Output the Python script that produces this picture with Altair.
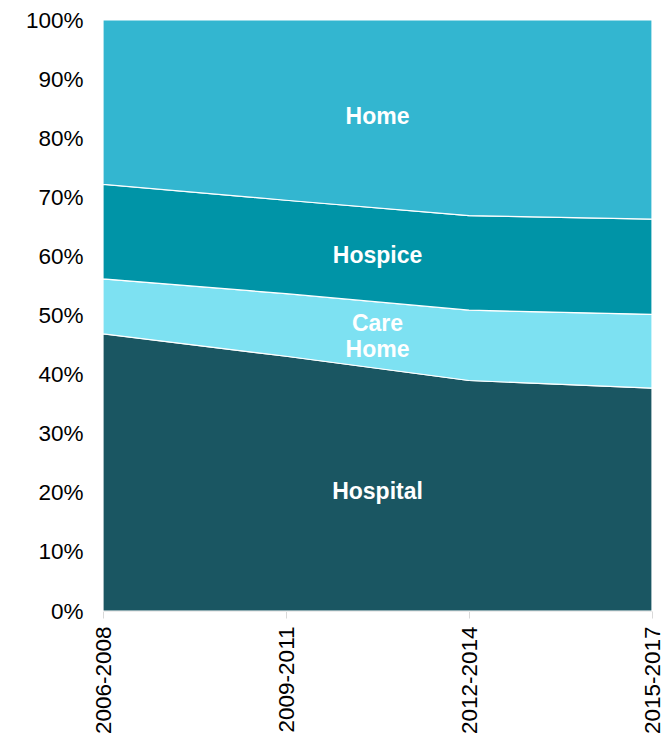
import altair as alt
import pandas as pd

periods = ["2006-2008", "2009-2011", "2012-2014", "2015-2017"]
places = ["Hospital", "Care Home", "Hospice", "Home"]
hospital = [46.9, 43.1, 39.0, 37.7]
care_home = [9.3, 10.6, 11.9, 12.5]
hospice = [16.0, 15.8, 16.0, 16.1]
home = [27.8, 30.5, 33.1, 33.7]
colors = ["#1A5662", "#7DE1F2", "#0094A7", "#33B6D0"]

label_text = [["Hospital"], ["Care", "Home"], ["Hospice"], ["Home"]]
label_x = [1.5, 1.5, 1.5, 1.5]
label_y = [20.2, 48.5, 60.0, 83.6]

series = [hospital, care_home, hospice, home]
rows = []
for k, (name, vals) in enumerate(zip(places, series)):
    for i, v in enumerate(vals):
        rows.append({"idx": i, "period": periods[i], "place": name, "order": k, "value": v})
df = pd.DataFrame(rows)

lab_df = pd.DataFrame({"text": label_text, "x": label_x, "y": label_y})

font = "Liberation Sans"
labels_js = "[" + ",".join("'" + p + "'" for p in periods) + "]"

x_enc = alt.X(
    "idx:Q",
    scale=alt.Scale(domain=[0, 3], nice=False, zero=False),
    axis=alt.Axis(
        values=[0, 1, 2, 3],
        labelExpr=labels_js + "[datum.value]",
        labelAngle=-90,
        labelAlign="right",
        labelBaseline="middle",
        labelFont=font,
        labelFontSize=22.5,
        labelColor="#000000",
        labelPadding=8,
        tickColor="#d9d9d9",
        tickSize=7,
        domainColor="#d9d9d9",
        grid=False,
        title=None,
    ),
)

area = alt.Chart(df).mark_area(stroke="white", strokeWidth=1.2, interpolate="linear").encode(
    x=x_enc,
    y=alt.Y(
        "value:Q",
        stack="zero",
        scale=alt.Scale(domain=[0, 100], nice=False),
        axis=alt.Axis(
            values=list(range(0, 101, 10)),
            labelExpr="datum.value + '%'",
            labelFont=font,
            labelFontSize=22.5,
            labelColor="#000000",
            labelPadding=20,
            ticks=False,
            domainColor="#d9d9d9",
            grid=False,
            title=None,
        ),
    ),
    color=alt.Color("place:N", scale=alt.Scale(domain=places, range=colors), legend=None),
    order=alt.Order("order:Q"),
)

text = alt.Chart(lab_df).mark_text(
    font=font, fontSize=23, fontWeight="bold", color="white",
    align="center", baseline="middle", lineHeight=26,
).encode(
    x=alt.X("x:Q"),
    y=alt.Y("y:Q"),
    text="text",
)

chart = alt.layer(area, text).properties(
    width=549, height=591,
    autosize=alt.AutoSizeParams(type="none"),
    padding={"left": 103, "top": 20, "right": 12, "bottom": 127},
).configure_view(stroke=None)

chart.save("out.html", embed_options={"renderer": "svg", "actions": False})
